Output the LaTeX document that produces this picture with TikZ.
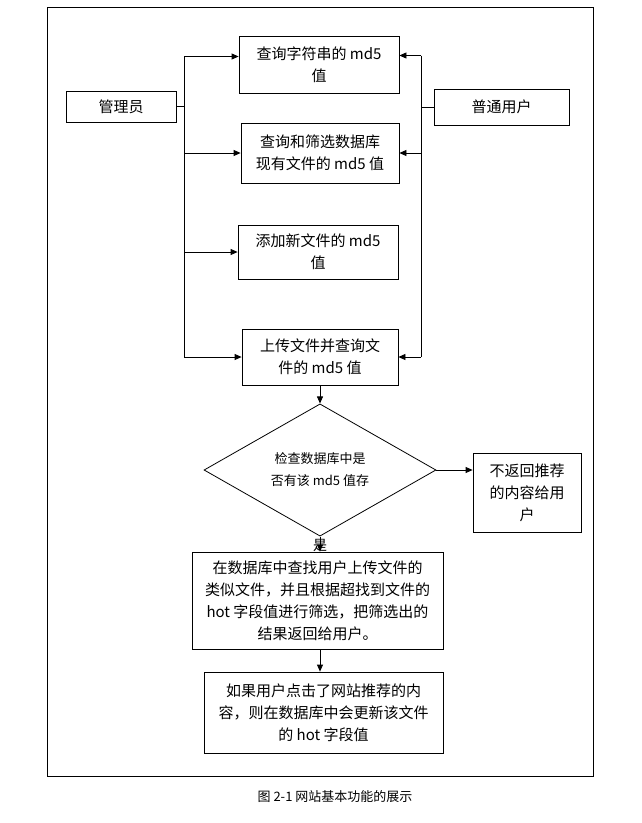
\documentclass[tikz,border=0pt]{standalone}
\usepackage{fontspec}
\setmainfont{Noto Sans CJK SC}
\usetikzlibrary{arrows.meta,positioning,shapes.geometric}

\tikzset{
  funcbox/.style={draw,line width=0.8pt,align=center,inner sep=2pt,font=\fontsize{15}{22}\selectfont},
  arr/.style={line width=0.8pt,-{Triangle[length=7pt,width=6pt]}},
  ln/.style={line width=0.8pt}
}

\begin{document}
\begin{tikzpicture}[x=1pt,y=-1pt]
  \useasboundingbox (0,0) rectangle (641,823);
  \draw[ln] (47,7) rectangle (593,776);
  % roles
  \node[funcbox,minimum width=110,minimum height=31] (admin) at (121,106.5) {管理员};
  \node[funcbox,minimum width=135,minimum height=36] (user) at (501.5,107) {普通用户};
  % functions
  \node[funcbox,minimum width=160,minimum height=57] (q1) at (319,64.5) {查询字符串的 md5\\值};
  \node[funcbox,minimum width=158,minimum height=60] (q2) at (320,153) {查询和筛选数据库\\现有文件的 md5 值};
  \node[funcbox,minimum width=160,minimum height=54] (q3) at (318,252) {添加新文件的 md5\\值};
  \node[funcbox,minimum width=156,minimum height=56] (q4) at (320,357) {上传文件并查询文\\件的 md5 值};
  % check
  \node[draw,ln,diamond,minimum width=232,minimum height=106,inner sep=0pt,align=center,
        font=\fontsize{13}{22}\selectfont] (chk) at (320,470) {检查数据库中是\\否有该 md5 值存};
  \node[funcbox,minimum width=108,minimum height=79] (none) at (527,492.5) {不返回推荐\\的内容给用\\户};
  \node[funcbox,minimum width=251,minimum height=97] (res) at (317.5,600.5)
    {在数据库中查找用户上传文件的\\类似文件，并且根据超找到文件的\\hot 字段值进行筛选，把筛选出的\\结果返回给用户。};
  \node[funcbox,minimum width=239,minimum height=81] (upd) at (323.5,712.5)
    {如果用户点击了网站推荐的内\\容，则在数据库中会更新该文件\\的 hot 字段值};
  \node[font=\fontsize{13}{16}\selectfont] (cap) at (335,797) {图 2-1 网站基本功能的展示};
  % admin side
  \coordinate (lbus) at (184,108);
  \coordinate (q1l) at ([yshift=8pt]q1.west);
  \draw[ln] (admin.east) -- (lbus |- admin.east);
  \draw[ln] (lbus |- q1l) -- (lbus |- q4.west);
  \draw[arr] (lbus |- q1l) -- (q1l);
  \draw[arr] (lbus |- q2.west) -- (q2.west);
  \draw[arr] (lbus |- q3.west) -- (q3.west);
  \draw[arr] (lbus |- q4.west) -- (q4.west);
  % user side
  \coordinate (rbus) at (421,108);
  \coordinate (q1r) at ([yshift=9pt]q1.east);
  \draw[ln] (user.west) -- (rbus |- user.west);
  \draw[ln] (rbus |- q1r) -- (rbus |- q4.east);
  \draw[arr] (rbus |- q1r) -- (q1r);
  \draw[arr] (rbus |- q2.east) -- (q2.east);
  \draw[arr] (rbus |- q4.east) -- (q4.east);
  % flow
  \draw[arr] (q4.south) -- (chk.north);
  \draw[arr] (chk.east) -- (chk.east -| none.west);
  \draw[arr] (chk.south) -- node[pos=0.6,font=\fontsize{14}{16}\selectfont] (yes) {是} (chk.south |- res.north);
  \draw[arr] (chk.south |- res.south) -- (chk.south |- upd.north);
\end{tikzpicture}
\end{document}
